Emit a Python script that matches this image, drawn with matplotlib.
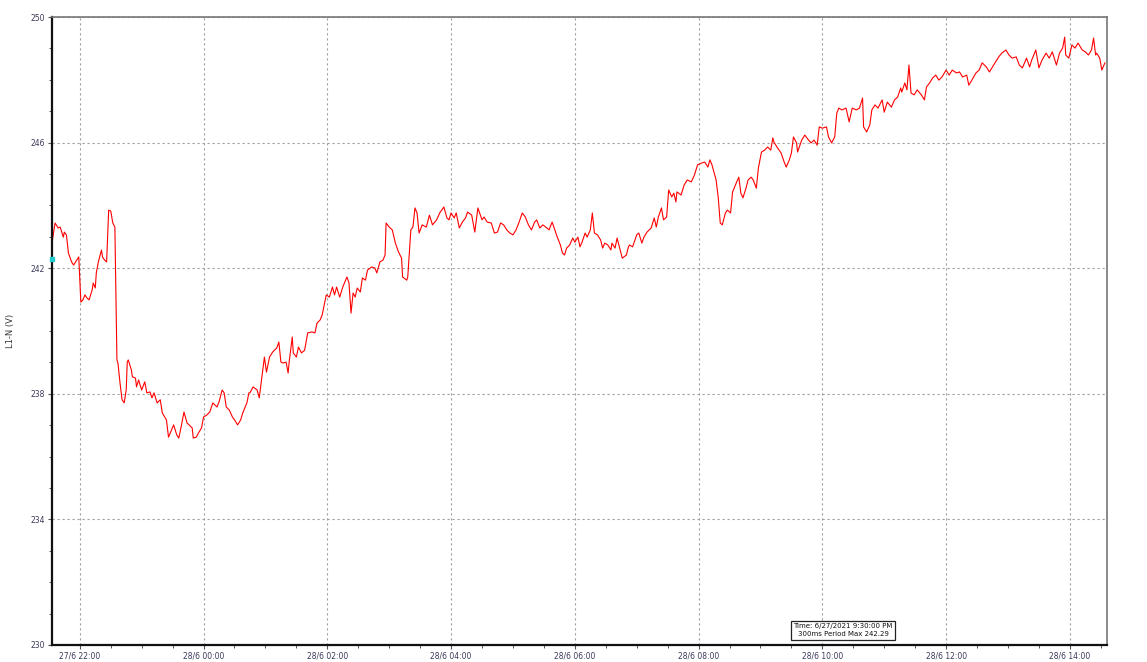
import numpy as np
import pandas as pd
import matplotlib
matplotlib.use("Agg")
import matplotlib.pyplot as plt
import matplotlib.dates as mdates
from matplotlib.ticker import MultipleLocator, FuncFormatter

# L1-N voltage readings, minutes relative to 27/6 22:00
minutes = [
    -27, -24, -21, -19, -16, -15, -13, -11, -8, -6, -3, -1, 1, 3, 5, 7, 9, 12, 13, 15,
    16, 18, 21, 22, 24, 26, 28, 30, 32, 34, 36, 37, 39, 41, 43, 45, 46, 47, 50, 51,
    54, 55, 57, 60, 63, 65, 68, 70, 72, 75, 78, 80, 84, 86, 89, 91, 94, 96, 99, 101,
    104, 106, 109, 110, 113, 115, 118, 120, 123, 126, 129, 133, 135, 138, 140, 142, 145, 148, 150, 153,
    156, 158, 162, 164, 165, 168, 172, 174, 177, 179, 181, 184, 187, 191, 193, 195, 197, 200, 202, 203,
    206, 207, 210, 212, 215, 218, 221, 225, 228, 230, 233, 235, 239, 242, 245, 247, 249, 252, 255, 259,
    261, 263, 265, 267, 269, 272, 274, 277, 279, 283, 286, 288, 291, 294, 296, 297, 300, 303, 306, 309,
    312, 313, 317, 318, 321, 323, 325, 327, 329, 332, 336, 339, 342, 346, 349, 353, 356, 358, 360, 363,
    365, 368, 371, 374, 376, 380, 383, 386, 390, 392, 395, 399, 402, 405, 408, 411, 414, 417, 420, 423,
    426, 429, 432, 435, 438, 441, 443, 446, 449, 453, 455, 458, 460, 463, 466, 468, 470, 472, 475, 478,
    480, 483, 485, 487, 490, 492, 495, 497, 499, 502, 505, 507, 509, 512, 515, 516, 519, 521, 524, 526,
    530, 532, 533, 536, 540, 542, 545, 547, 550, 554, 557, 559, 561, 564, 566, 569, 571, 574, 576, 578,
    579, 583, 586, 589, 593, 596, 599, 603, 606, 609, 611, 613, 617, 619, 621, 623, 626, 628, 631, 633,
    635, 637, 639, 641, 643, 646, 648, 651, 653, 656, 658, 661, 664, 667, 670, 672, 673, 676, 680, 683,
    685, 688, 690, 692, 695, 696, 700, 703, 705, 709, 712, 715, 717, 720, 724, 726, 729, 732, 734, 736,
    739, 743, 746, 749, 753, 756, 759, 760, 763, 766, 768, 771, 774, 778, 780, 783, 787, 790, 793, 796,
    797, 800, 802, 804, 806, 809, 812, 816, 819, 821, 824, 827, 830, 833, 836, 840, 843, 846, 850, 853,
    856, 860, 862, 865, 869, 872, 875, 879, 882, 885, 889, 891, 894, 898, 901, 904, 908, 911, 914, 918,
    921, 923, 927, 930, 933, 937, 940, 943, 947, 950, 953, 955, 956, 959, 962, 965, 968, 972, 975, 978,
    981, 983, 985, 986, 989, 991, 994,
]
volts = [
    242.80, 243.44, 243.28, 243.31, 242.99, 243.15, 243.06, 242.48, 242.20, 242.10, 242.26, 242.36, 240.92, 240.99, 241.15, 241.05, 240.99, 241.31, 241.53, 241.37,
    241.85, 242.20, 242.58, 242.36, 242.26, 242.20, 243.85, 243.82, 243.44, 243.31, 239.08, 238.98, 238.34, 237.81, 237.71, 238.12, 239.01, 239.08, 238.76, 238.54,
    238.50, 238.22, 238.44, 238.12, 238.38, 238.03, 238.06, 237.87, 238.03, 237.71, 237.81, 237.39, 237.17, 236.62, 236.85, 237.01, 236.69, 236.59, 237.07, 237.42,
    237.07, 237.01, 236.91, 236.59, 236.62, 236.75, 236.91, 237.26, 237.32, 237.42, 237.71, 237.58, 237.74, 238.12, 238.03, 237.58, 237.48, 237.26, 237.17, 237.01,
    237.17, 237.39, 237.71, 238.03, 238.03, 238.22, 238.12, 237.87, 238.66, 239.17, 238.69, 239.17, 239.33, 239.46, 239.65, 239.01, 238.98, 239.01, 238.66, 239.01,
    239.81, 239.30, 239.17, 239.49, 239.30, 239.39, 239.94, 239.97, 239.94, 240.25, 240.35, 240.51, 241.15, 241.08, 241.40, 241.15, 241.40, 241.08, 241.40, 241.72,
    241.53, 240.57, 241.21, 241.08, 241.37, 241.24, 241.69, 241.62, 241.94, 242.04, 242.01, 241.85, 242.20, 242.26, 242.42, 243.44, 243.31, 243.22, 242.80, 242.52,
    242.32, 241.72, 241.62, 241.72, 243.22, 243.31, 243.92, 243.76, 243.12, 243.38, 243.31, 243.69, 243.38, 243.54, 243.76, 243.95, 243.60, 243.54, 243.76, 243.60,
    243.76, 243.28, 243.47, 243.60, 243.79, 243.69, 243.15, 243.92, 243.54, 243.63, 243.47, 243.44, 243.12, 243.15, 243.44, 243.38, 243.22, 243.12, 243.06, 243.22,
    243.47, 243.76, 243.63, 243.38, 243.22, 243.47, 243.54, 243.28, 243.38, 243.28, 243.22, 243.47, 243.28, 242.99, 242.74, 242.48, 242.42, 242.64, 242.74, 242.96,
    242.83, 242.99, 242.68, 242.83, 243.12, 242.99, 243.22, 243.76, 243.12, 243.06, 242.90, 242.64, 242.80, 242.74, 242.58, 242.80, 242.64, 242.96, 242.58, 242.32,
    242.42, 242.68, 242.74, 242.68, 243.06, 243.12, 242.80, 242.99, 243.15, 243.28, 243.60, 243.31, 243.63, 243.92, 243.54, 243.63, 244.49, 244.27, 244.39, 244.11,
    244.43, 244.33, 244.65, 244.81, 244.75, 244.97, 245.29, 245.35, 245.38, 245.22, 245.45, 245.29, 244.81, 244.27, 243.44, 243.38, 243.76, 243.85, 243.76, 244.43,
    244.59, 244.75, 244.90, 244.39, 244.24, 244.55, 244.81, 244.90, 244.81, 244.55, 245.19, 245.70, 245.76, 245.86, 245.76, 246.15, 246.02, 245.86, 245.67, 245.38,
    245.22, 245.45, 245.67, 246.18, 245.99, 245.70, 246.08, 246.24, 246.15, 245.99, 246.08, 245.92, 246.50, 246.46, 246.50, 246.18, 245.99, 246.18, 246.94, 247.10,
    247.04, 247.10, 246.66, 247.10, 247.04, 247.10, 247.42, 246.50, 246.34, 246.56, 247.04, 247.20, 247.10, 247.36, 246.97, 247.29, 247.13, 247.36, 247.45, 247.74,
    247.61, 247.90, 247.68, 248.47, 247.58, 247.52, 247.68, 247.52, 247.36, 247.77, 247.90, 248.06, 248.15, 247.99, 248.09, 248.31, 248.15, 248.31, 248.22, 248.25,
    248.09, 248.15, 247.83, 247.99, 248.22, 248.31, 248.54, 248.41, 248.25, 248.41, 248.63, 248.73, 248.85, 248.95, 248.79, 248.69, 248.73, 248.47, 248.38, 248.69,
    248.41, 248.63, 248.95, 248.38, 248.63, 248.85, 248.69, 248.89, 248.47, 248.85, 249.01, 249.36, 248.79, 248.69, 249.11, 249.01, 249.17, 248.95, 248.89, 248.79,
    248.95, 249.33, 248.79, 248.85, 248.69, 248.31, 248.54,
]

y_ticks = [230, 234, 238, 242, 246, 250]

cursor_time = "2021-06-27 21:33"
cursor_value = 242.29

start = pd.Timestamp("2021-06-27 22:00")
t = start + pd.to_timedelta(minutes, unit="min")

fig = plt.figure(figsize=(11.47, 6.62), dpi=100)
ax = fig.add_axes([0.0453, 0.0257, 0.9198, 0.9486])

ax.plot(t, volts, color="#ff0000", lw=0.8)

ax.set_xlim(pd.Timestamp("2021-06-27 21:33"), pd.Timestamp("2021-06-28 14:36"))
ax.set_ylim(230, 250)

# axis ticks
ax.set_yticks(y_ticks)
ax.yaxis.set_minor_locator(MultipleLocator(1))
ax.xaxis.set_major_locator(mdates.HourLocator(byhour=range(0, 24, 2)))
ax.xaxis.set_minor_locator(mdates.MinuteLocator(byminute=[0, 30]))
ax.xaxis.set_major_formatter(FuncFormatter(
    lambda x, pos: (lambda d: f"{d.day}/{d.month} {d:%H:%M}")(mdates.num2date(x))))
ax.yaxis.set_major_formatter(FuncFormatter(lambda v, pos: f"{v:.0f}"))
ax.tick_params(axis="both", which="major", labelsize=5.5, labelcolor="#3a3a5a",
               length=3, width=0.8, color="#555555", pad=2)
ax.tick_params(axis="both", which="minor", length=2, width=0.7, color="#555555")

ax.grid(True, which="major", color="#a0a0a0", linestyle=(0, (2, 2.5)), lw=0.8)

for side in ("left", "bottom"):
    ax.spines[side].set_color("#111111")
    ax.spines[side].set_linewidth(1.6)
for side in ("top", "right"):
    ax.spines[side].set_color("#777777")
    ax.spines[side].set_linewidth(1.2)

ax.set_ylabel("L1-N (V)", fontsize=6, color="#333333")
ax.yaxis.set_label_coords(-0.035, 0.5)

# cursor marker and readout box
ax.plot([pd.Timestamp(cursor_time)], [cursor_value], marker="s", ms=2.5,
        color="#22cccc", clip_on=False, zorder=5)
ax.text(0.75, 0.012,
        f"Time: 6/27/2021 9:30:00 PM\n300ms Period Max {cursor_value:.2f}",
        transform=ax.transAxes, fontsize=5, ha="center", va="bottom",
        linespacing=1.5, color="#111111",
        bbox=dict(boxstyle="square,pad=0.35", fc="white", ec="#222222", lw=0.9))

fig.savefig("out.png", dpi=100)
